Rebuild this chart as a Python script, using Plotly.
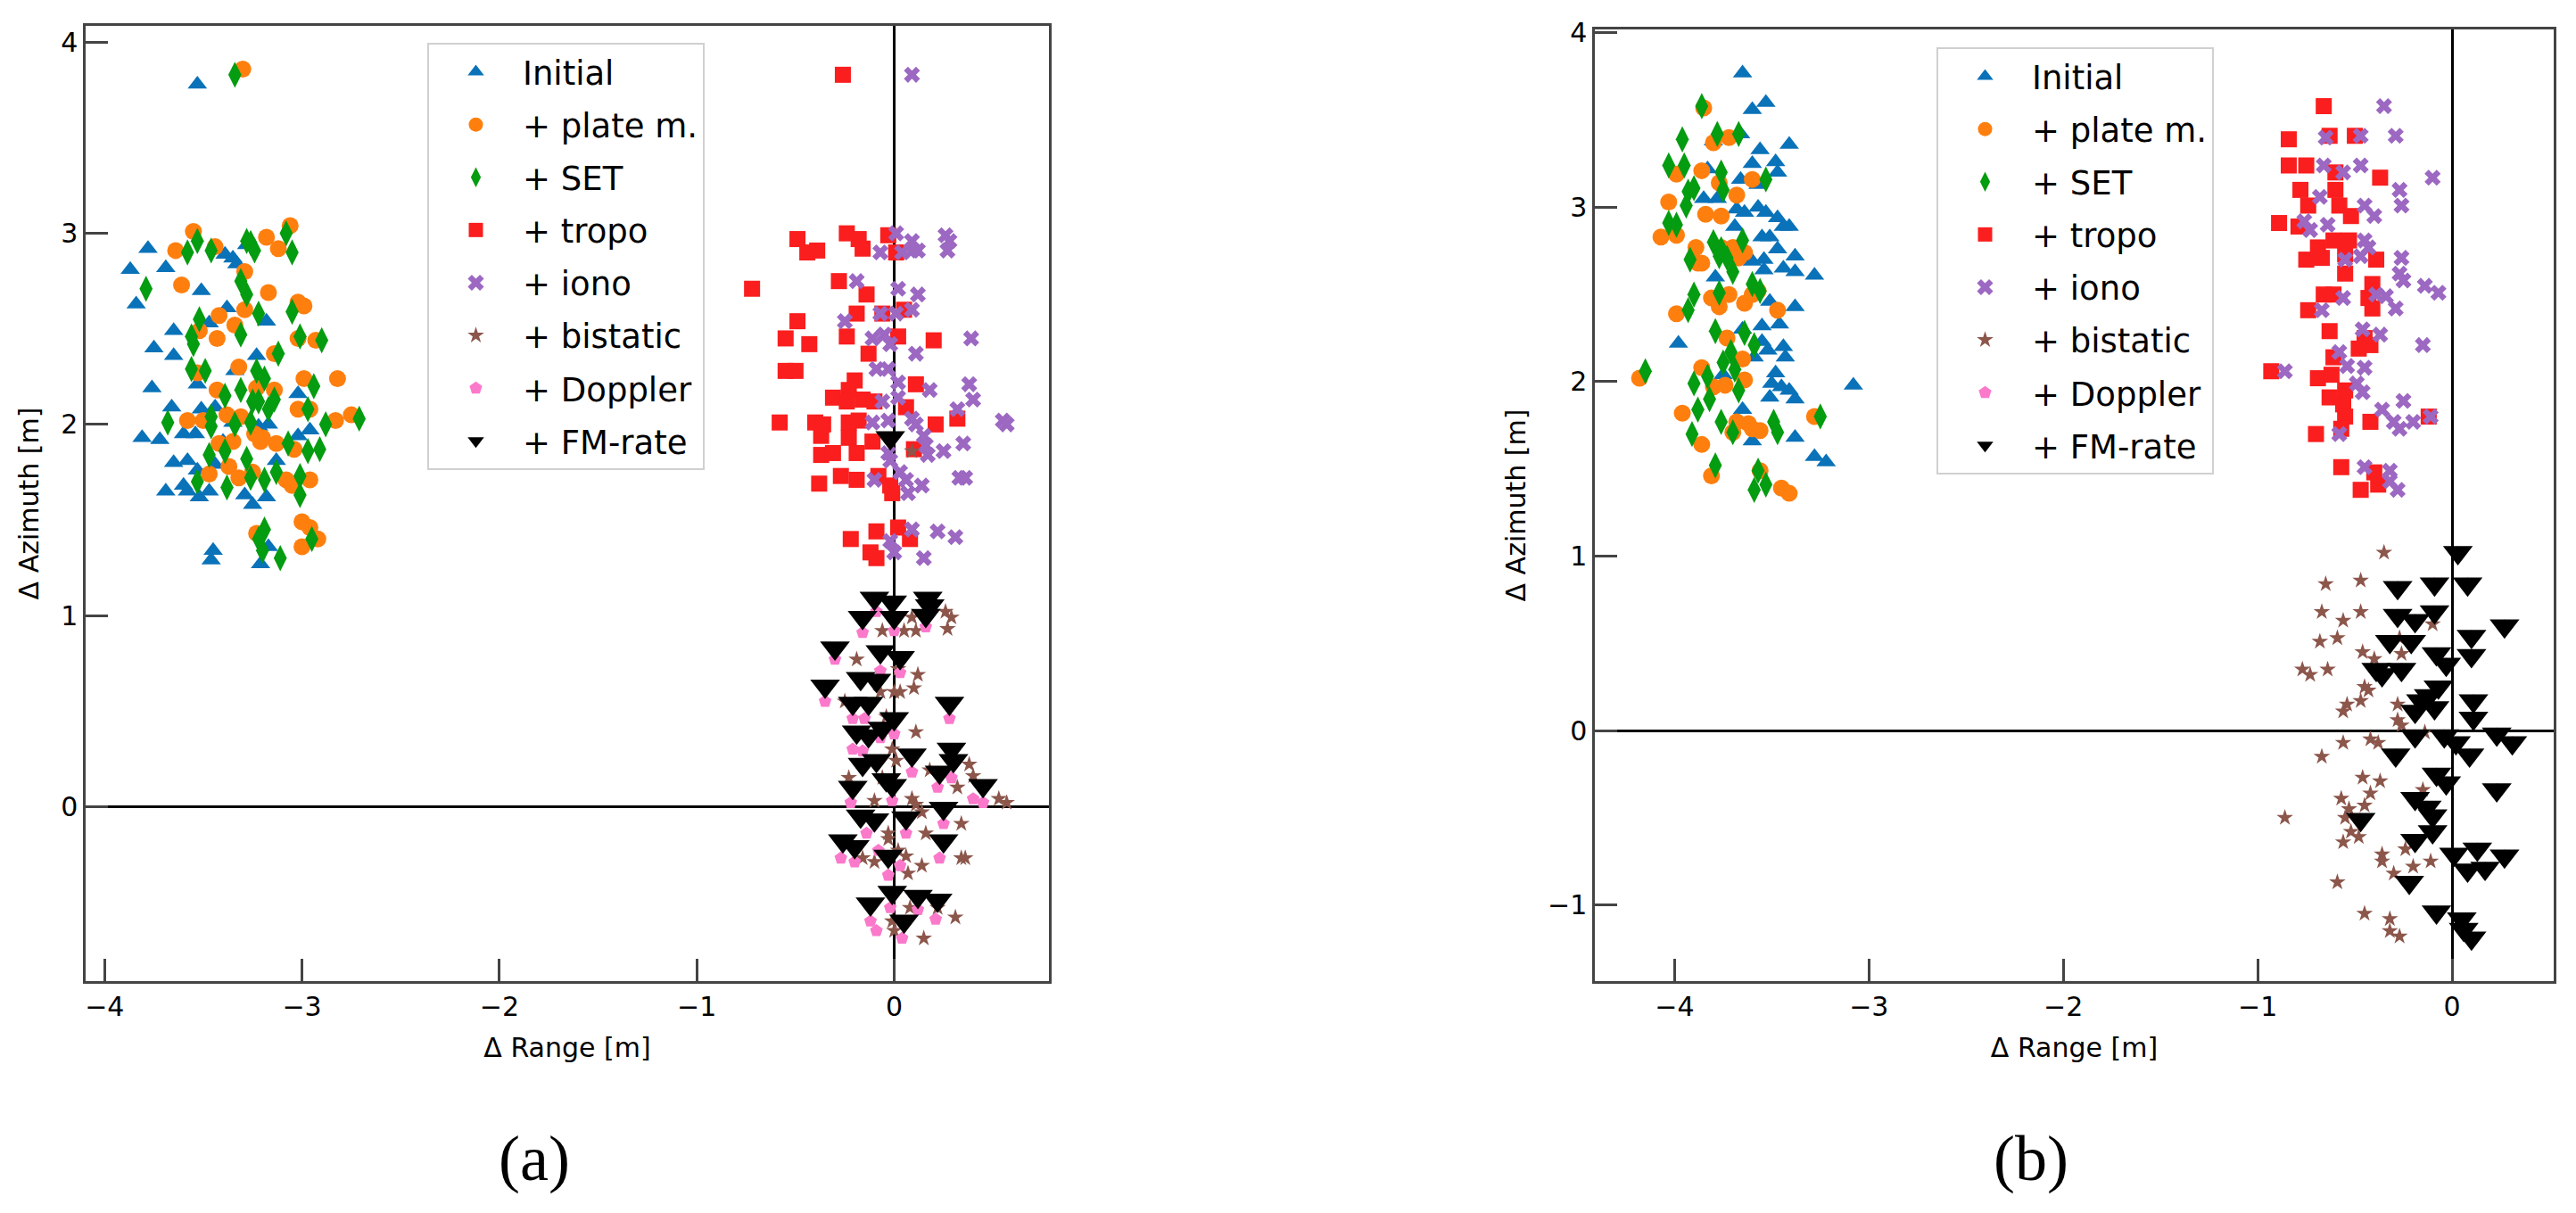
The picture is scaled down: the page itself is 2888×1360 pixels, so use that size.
import plotly.graph_objects as go

# series labels (same for both panels)
names = ["Initial", "+ plate m.", "+ SET", "+ tropo", "+ iono", "+ bistatic", "+ Doppler", "+ FM-rate"]

# ---- panel (a): (delta range, delta azimuth) in m ----
a_initial = [(-3.53, 3.78), (-3.78, 2.92), (-3.87, 2.81), (-3.69, 2.82), (-3.84, 2.63), (-3.51, 2.70), (-3.39, 2.89),
             (-3.35, 2.87), (-3.33, 2.84), (-3.28, 2.94), (-3.38, 2.61), (-3.18, 2.54), (-3.47, 2.53), (-3.65, 2.49),
             (-3.75, 2.40), (-3.65, 2.36), (-3.23, 2.36), (-3.76, 2.19), (-3.53, 2.21), (-3.34, 2.28), (-3.02, 2.16),
             (-3.66, 2.09), (-3.51, 2.08), (-3.44, 2.09), (-3.81, 1.93), (-3.72, 1.92), (-3.60, 1.95), (-3.54, 1.95),
             (-3.65, 1.80), (-3.58, 1.81), (-3.53, 1.76), (-3.44, 1.79), (-3.22, 1.99), (-3.17, 2.00), (-3.02, 1.94),
             (-2.96, 1.97), (-3.13, 1.81), (-3.69, 1.65), (-3.60, 1.68), (-3.58, 1.65), (-3.52, 1.62), (-3.47, 1.65),
             (-3.29, 1.63), (-3.25, 1.58), (-3.18, 1.62), (-3.35, 2.01), (-3.46, 1.29), (-3.45, 1.34), (-3.21, 1.27),
             (-3.17, 1.36), (-3.40, 1.91)]
a_plate = [(-3.30, 3.86), (-3.55, 3.01), (-3.64, 2.91), (-3.44, 2.93), (-3.29, 2.80), (-3.18, 2.98), (-3.12, 2.92),
           (-3.06, 3.04), (-3.61, 2.73), (-3.17, 2.69), (-3.02, 2.64), (-2.99, 2.62), (-3.42, 2.57), (-3.34, 2.52),
           (-3.29, 2.60), (-3.52, 2.49), (-3.43, 2.45), (-3.14, 2.37), (-3.02, 2.45), (-2.93, 2.44), (-3.32, 2.30),
           (-3.53, 2.27), (-2.99, 2.24), (-2.82, 2.24), (-3.43, 2.18), (-3.23, 2.19), (-3.14, 2.18), (-3.58, 2.02),
           (-3.50, 2.02), (-3.38, 2.05), (-3.31, 2.04), (-3.02, 2.08), (-2.96, 2.08), (-2.83, 2.02), (-2.75, 2.05),
           (-3.42, 1.90), (-3.35, 1.91), (-3.24, 1.95), (-3.20, 1.93), (-3.13, 1.90), (-3.04, 1.87), (-3.47, 1.74),
           (-3.37, 1.78), (-3.32, 1.72), (-3.25, 1.75), (-3.08, 1.71), (-2.96, 1.71), (-3.23, 1.43), (-3.00, 1.49),
           (-2.96, 1.46), (-2.92, 1.40), (-3.00, 1.36), (-3.05, 1.68), (-3.21, 1.91)]
a_set = [(-3.34, 3.83), (-3.53, 2.96), (-3.58, 2.90), (-3.46, 2.91), (-3.28, 2.96), (-3.26, 2.95), (-3.24, 2.91),
         (-3.08, 3.00), (-3.05, 2.90), (-3.79, 2.71), (-3.31, 2.75), (-3.28, 2.68), (-3.22, 2.58), (-3.05, 2.59),
         (-3.52, 2.55), (-3.56, 2.46), (-3.55, 2.42), (-3.31, 2.47), (-3.01, 2.46), (-2.90, 2.44), (-3.12, 2.37),
         (-3.56, 2.29), (-3.49, 2.28), (-3.23, 2.28), (-3.19, 2.24), (-3.39, 2.15), (-3.31, 2.18), (-2.94, 2.20),
         (-3.25, 2.12), (-3.17, 2.08), (-3.14, 2.13), (-3.68, 2.01), (-3.46, 2.04), (-3.46, 1.99), (-3.34, 2.00),
         (-3.26, 2.01), (-2.97, 2.08), (-2.88, 2.00), (-2.71, 2.03), (-3.47, 1.84), (-3.39, 1.86), (-3.28, 1.82),
         (-3.07, 1.90), (-2.97, 1.86), (-2.91, 1.87), (-3.53, 1.70), (-3.38, 1.67), (-3.26, 1.72), (-3.19, 1.71),
         (-3.13, 1.75), (-3.01, 1.73), (-3.01, 1.63), (-3.19, 1.45), (-3.22, 1.40), (-3.20, 1.34), (-3.11, 1.30),
         (-2.95, 1.40), (-3.22, 2.12)]
a_tropo = [(-0.26, 3.83), (-0.49, 2.97), (-0.44, 2.90), (-0.39, 2.91), (-0.24, 3.00), (-0.18, 2.97), (-0.16, 2.92),
           (-0.03, 2.99), (0.01, 2.90), (-0.72, 2.71), (-0.28, 2.75), (-0.14, 2.68), (-0.19, 2.58), (-0.06, 2.58),
           (0.05, 2.60), (-0.49, 2.54), (-0.55, 2.45), (-0.43, 2.42), (-0.24, 2.46), (0.02, 2.46), (0.20, 2.44),
           (-0.55, 2.28), (-0.50, 2.28), (-0.13, 2.37), (0.11, 2.21), (-0.20, 2.23), (-0.23, 2.18), (-0.31, 2.14),
           (-0.24, 2.12), (-0.16, 2.13), (-0.10, 2.12), (-0.58, 2.01), (-0.40, 2.01), (-0.36, 2.00), (-0.23, 2.01),
           (-0.18, 2.02), (0.06, 2.09), (0.21, 2.00), (0.32, 2.03), (-0.37, 1.94), (-0.23, 1.93), (-0.11, 1.91),
           (-0.37, 1.84), (-0.31, 1.85), (-0.19, 1.85), (-0.38, 1.69), (-0.27, 1.73), (-0.19, 1.71), (-0.08, 1.73),
           (-0.01, 1.64), (-0.02, 1.68), (-0.22, 1.40), (-0.09, 1.44), (0.02, 1.46), (0.08, 1.40), (-0.12, 1.33),
           (-0.09, 1.30), (0.10, 1.87)]
a_iono = [(0.09, 3.83), (0.01, 3.00), (0.09, 2.96), (0.09, 2.91), (-0.07, 2.90), (0.04, 2.90), (0.12, 2.91),
          (0.26, 2.99), (0.28, 2.96), (0.27, 2.91), (-0.19, 2.75), (0.02, 2.71), (0.12, 2.68), (-0.25, 2.54),
          (-0.07, 2.58), (0.01, 2.58), (0.09, 2.60), (-0.11, 2.45), (-0.05, 2.47), (-0.02, 2.42), (0.39, 2.45),
          (0.11, 2.37), (-0.09, 2.29), (-0.03, 2.29), (0.02, 2.22), (0.18, 2.18), (0.38, 2.21), (0.40, 2.13),
          (0.02, 2.14), (-0.06, 2.12), (0.32, 2.08), (-0.11, 2.01), (-0.03, 2.02), (0.09, 2.03), (0.11, 2.00),
          (0.55, 2.02), (0.57, 2.00), (0.15, 1.94), (0.16, 1.89), (0.17, 1.84), (-0.03, 1.85), (-0.02, 1.81),
          (0.25, 1.86), (0.35, 1.90), (0.03, 1.75), (0.06, 1.71), (0.07, 1.64), (0.14, 1.68), (0.33, 1.72),
          (0.36, 1.72), (-0.10, 1.71), (0.09, 1.45), (0.22, 1.44), (0.31, 1.41), (-0.02, 1.39), (0.00, 1.33),
          (0.15, 1.30)]
a_bistatic = [(0.09, 0.99), (0.26, 1.02), (0.29, 0.99), (0.27, 0.93), (-0.06, 0.92), (0.05, 0.92), (0.11, 0.92),
              (-0.19, 0.77), (0.02, 0.72), (0.12, 0.69), (-0.07, 0.60), (0.00, 0.60), (0.03, 0.60), (0.10, 0.62),
              (-0.25, 0.55), (-0.04, 0.47), (-0.02, 0.43), (0.11, 0.39), (-0.01, 0.30), (0.01, 0.24), (0.38, 0.22),
              (0.18, 0.19), (0.40, 0.16), (0.32, 0.10), (-0.10, 0.03), (0.09, 0.04), (0.11, 0.01), (0.53, 0.04),
              (0.57, 0.02), (0.14, -0.03), (0.34, -0.09), (0.16, -0.14), (-0.03, -0.14), (-0.03, -0.17),
              (0.02, -0.23), (0.06, -0.26), (-0.16, -0.27), (-0.10, -0.29), (0.14, -0.31), (0.07, -0.35),
              (0.34, -0.27), (0.36, -0.27), (0.08, -0.53), (0.22, -0.53), (0.31, -0.58), (-0.01, -0.60),
              (0.00, -0.65), (0.15, -0.69), (-0.06, 0.15), (-0.23, 0.15), (0.09, 1.86)]
a_doppler = [(-0.16, 0.91), (-0.09, 1.02), (0.00, 0.92), (0.16, 0.94), (-0.30, 0.77), (-0.07, 0.71), (0.03, 0.70),
             (-0.35, 0.55), (-0.21, 0.46), (-0.15, 0.46), (0.28, 0.46), (0.00, 0.38), (-0.21, 0.30), (-0.16, 0.29),
             (0.09, 0.18), (0.29, 0.15), (0.22, 0.10), (-0.22, 0.02), (-0.01, 0.03), (0.45, 0.02), (-0.14, -0.14),
             (0.06, -0.14), (0.25, -0.09), (-0.27, -0.27), (-0.20, -0.29), (0.23, -0.27), (-0.03, -0.36),
             (0.03, -0.31), (-0.02, -0.53), (-0.12, -0.60), (-0.09, -0.65), (0.12, -0.54), (0.21, -0.59),
             (0.04, -0.69), (-0.08, -0.23), (0.40, 0.04), (-0.07, 0.36)]
a_fmrate = [(-0.10, 1.09), (-0.01, 1.07), (0.17, 1.09), (0.18, 1.05), (-0.16, 0.99), (0.00, 0.99), (0.16, 1.00),
            (-0.30, 0.83), (-0.07, 0.81), (0.03, 0.78), (-0.35, 0.63), (-0.17, 0.67), (-0.09, 0.66), (-0.21, 0.54),
            (-0.13, 0.54), (0.28, 0.54), (0.00, 0.46), (-0.19, 0.39), (-0.13, 0.37), (0.29, 0.30), (0.09, 0.27),
            (-0.16, 0.22), (-0.09, 0.24), (0.30, 0.24), (0.23, 0.18), (-0.21, 0.10), (-0.01, 0.11), (0.45, 0.11),
            (-0.17, -0.05), (0.06, -0.06), (0.25, -0.01), (-0.10, -0.07), (-0.26, -0.18), (-0.20, -0.21),
            (0.25, -0.18), (-0.03, -0.26), (-0.01, -0.45), (-0.12, -0.51), (0.12, -0.47), (0.22, -0.49),
            (0.05, -0.60), (-0.02, 1.93), (-0.06, 0.41), (-0.04, 0.14)]

# ---- panel (b) ----
b_initial = [(-3.65, 3.77), (-3.60, 3.56), (-3.53, 3.60), (-3.66, 3.42), (-3.80, 3.38), (-3.41, 3.36), (-3.56, 3.33),
             (-3.60, 3.25), (-3.48, 3.26), (-3.47, 3.20), (-3.66, 3.16), (-3.57, 3.13), (-3.83, 3.22), (-3.85, 3.05),
             (-3.78, 3.05), (-3.68, 2.99), (-3.64, 2.97), (-3.57, 3.00), (-3.53, 2.97), (-3.47, 2.94), (-3.44, 2.89),
             (-3.41, 2.89), (-3.69, 2.89), (-3.55, 2.83), (-3.51, 2.83), (-3.47, 2.76), (-3.38, 2.72), (-3.54, 2.70),
             (-3.60, 2.69), (-3.44, 2.65), (-3.38, 2.63), (-3.28, 2.61), (-3.79, 2.60), (-3.54, 2.64), (-3.51, 2.46),
             (-3.38, 2.43), (-3.46, 2.33), (-3.55, 2.32), (-3.65, 2.30), (-3.98, 2.22), (-3.55, 2.23), (-3.52, 2.18),
             (-3.44, 2.20), (-3.43, 2.14), (-3.59, 2.14), (-3.75, 2.04), (-3.48, 2.05), (-3.50, 1.99), (-3.45, 1.97),
             (-3.41, 1.95), (-3.51, 1.91), (-3.38, 1.90), (-3.08, 1.98), (-3.65, 1.84), (-3.60, 1.66), (-3.38, 1.68),
             (-3.28, 1.57), (-3.22, 1.54)]
b_plate = [(-3.85, 3.57), (-3.80, 3.37), (-3.72, 3.40), (-3.99, 3.19), (-3.86, 3.21), (-3.60, 3.16), (-4.03, 3.03),
           (-3.77, 3.14), (-3.84, 2.96), (-3.76, 2.95), (-3.68, 3.07), (-4.07, 2.83), (-3.99, 2.84), (-3.89, 2.77),
           (-3.86, 2.68), (-3.76, 2.77), (-3.70, 2.77), (-3.67, 2.71), (-3.64, 2.74), (-3.88, 2.68), (-3.81, 2.48),
           (-3.77, 2.43), (-3.72, 2.50), (-3.64, 2.45), (-3.60, 2.50), (-3.47, 2.41), (-3.99, 2.39), (-3.73, 2.25),
           (-3.65, 2.13), (-3.86, 2.08), (-3.80, 1.97), (-3.74, 1.98), (-3.64, 2.01), (-3.96, 1.82), (-3.68, 1.77),
           (-3.62, 1.76), (-3.56, 1.72), (-3.28, 1.80), (-3.86, 1.64), (-3.70, 1.71), (-3.81, 1.46), (-3.56, 1.49),
           (-3.45, 1.39), (-3.41, 1.36), (-3.60, 1.73), (-3.57, 2.52), (-4.18, 2.02)]
b_set = [(-3.86, 3.58), (-3.96, 3.39), (-3.78, 3.42), (-3.67, 3.42), (-4.03, 3.24), (-3.95, 3.24), (-3.76, 3.20),
         (-3.53, 3.16), (-3.93, 3.09), (-3.90, 3.11), (-3.94, 3.01), (-3.75, 3.10), (-4.03, 2.91), (-3.99, 2.90),
         (-3.80, 2.80), (-3.76, 2.76), (-3.73, 2.71), (-3.92, 2.70), (-3.70, 2.63), (-3.65, 2.81), (-3.60, 2.56),
         (-3.56, 2.52), (-3.90, 2.50), (-3.93, 2.41), (-3.77, 2.51), (-3.79, 2.29), (-3.64, 2.28), (-3.59, 2.21),
         (-3.71, 2.17), (-3.75, 2.11), (-3.69, 2.07), (-3.90, 1.99), (-3.83, 2.03), (-3.82, 1.90), (-3.88, 1.84),
         (-3.67, 1.95), (-3.76, 1.77), (-3.91, 1.70), (-3.70, 1.71), (-3.49, 1.77), (-3.47, 1.71), (-3.79, 1.52),
         (-3.57, 1.49), (-3.59, 1.38), (-3.53, 1.41), (-3.25, 1.80), (-4.15, 2.06), (-3.77, 2.72)]
b_tropo = [(-0.66, 3.58), (-0.84, 3.39), (-0.63, 3.41), (-0.50, 3.41), (-0.84, 3.24), (-0.75, 3.24), (-0.60, 3.20),
           (-0.37, 3.17), (-0.78, 3.10), (-0.60, 3.10), (-0.74, 3.01), (-0.58, 3.01), (-0.52, 2.95), (-0.89, 2.91),
           (-0.79, 2.89), (-0.69, 2.77), (-0.61, 2.81), (-0.53, 2.81), (-0.75, 2.70), (-0.67, 2.71), (-0.55, 2.73),
           (-0.39, 2.70), (-0.55, 2.62), (-0.66, 2.50), (-0.61, 2.50), (-0.74, 2.41), (-0.41, 2.56), (-0.43, 2.48),
           (-0.41, 2.42), (-0.63, 2.29), (-0.45, 2.25), (-0.42, 2.21), (-0.48, 2.19), (-0.61, 2.14), (-0.93, 2.06),
           (-0.69, 2.02), (-0.62, 2.04), (-0.63, 1.91), (-0.56, 1.87), (-0.55, 1.95), (-0.55, 1.80), (-0.57, 1.73),
           (-0.42, 1.77), (-0.70, 1.70), (-0.12, 1.80), (-0.57, 1.51), (-0.47, 1.38), (-0.40, 1.48), (-0.38, 1.41)]
b_iono = [(-0.35, 3.58), (-0.65, 3.40), (-0.47, 3.41), (-0.29, 3.41), (-0.66, 3.24), (-0.47, 3.24), (-0.56, 3.20),
          (-0.10, 3.17), (-0.27, 3.10), (-0.68, 3.06), (-0.26, 3.01), (-0.45, 3.01), (-0.40, 2.95), (-0.76, 2.92),
          (-0.73, 2.87), (-0.64, 2.90), (-0.45, 2.81), (-0.43, 2.77), (-0.47, 2.72), (-0.55, 2.70), (-0.26, 2.71),
          (-0.27, 2.62), (-0.25, 2.58), (-0.14, 2.55), (-0.07, 2.51), (-0.39, 2.50), (-0.34, 2.49), (-0.56, 2.48),
          (-0.67, 2.41), (-0.29, 2.42), (-0.46, 2.30), (-0.37, 2.27), (-0.15, 2.21), (-0.58, 2.17), (-0.54, 2.09),
          (-0.45, 2.08), (-0.86, 2.06), (-0.49, 1.99), (-0.46, 1.94), (-0.25, 1.89), (-0.36, 1.84), (-0.30, 1.77),
          (-0.27, 1.73), (-0.20, 1.77), (-0.11, 1.80), (-0.58, 1.70), (-0.45, 1.51), (-0.32, 1.49), (-0.32, 1.43),
          (-0.28, 1.38)]
b_bistatic = [(-0.35, 1.02), (-0.65, 0.84), (-0.47, 0.86), (-0.67, 0.68), (-0.56, 0.63), (-0.47, 0.68), (-0.68, 0.51),
              (-0.59, 0.53), (-0.27, 0.53), (-0.46, 0.45), (-0.26, 0.44), (-0.40, 0.41), (-0.77, 0.35), (-0.73, 0.32),
              (-0.64, 0.35), (-0.45, 0.25), (-0.43, 0.23), (-0.47, 0.17), (-0.54, 0.15), (-0.56, 0.11), (-0.28, 0.15),
              (-0.28, 0.06), (-0.26, 0.03), (-0.10, 0.61), (-0.14, -0.01), (-0.42, -0.05), (-0.38, -0.07),
              (-0.56, -0.07), (-0.67, -0.15), (-0.46, -0.27), (-0.37, -0.29), (-0.42, -0.36), (-0.57, -0.39),
              (-0.53, -0.45), (-0.55, -0.50), (-0.86, -0.50), (-0.52, -0.58), (-0.56, -0.64), (-0.48, -0.61),
              (-0.24, -0.68), (-0.36, -0.71), (-0.36, -0.75), (-0.20, -0.78), (-0.11, -0.75), (-0.30, -0.82),
              (-0.59, -0.87), (-0.45, -1.05), (-0.32, -1.08), (-0.32, -1.15), (-0.27, -1.18), (-0.15, -0.34),
              (-0.45, -0.43)]
b_fmrate = [(0.03, 1.02), (-0.28, 0.82), (-0.09, 0.84), (0.08, 0.84), (-0.28, 0.66), (-0.19, 0.63), (-0.09, 0.68),
            (0.27, 0.60), (-0.32, 0.51), (-0.21, 0.51), (0.10, 0.54), (-0.08, 0.44), (-0.03, 0.38), (0.10, 0.43),
            (-0.39, 0.35), (-0.36, 0.32), (-0.26, 0.35), (-0.07, 0.25), (-0.12, 0.20), (-0.16, 0.17), (-0.19, 0.11),
            (-0.09, 0.13), (0.11, 0.17), (0.11, 0.07), (-0.19, -0.03), (-0.04, -0.03), (0.02, -0.07), (0.23, -0.02),
            (0.31, -0.07), (-0.29, -0.14), (0.09, -0.14), (-0.08, -0.25), (-0.03, -0.30), (0.23, -0.34),
            (-0.19, -0.39), (-0.13, -0.44), (-0.10, -0.49), (-0.47, -0.51), (-0.10, -0.58), (-0.19, -0.63),
            (0.01, -0.71), (0.13, -0.68), (0.27, -0.72), (0.08, -0.80), (0.17, -0.79), (-0.22, -0.87),
            (-0.08, -1.04), (0.05, -1.08), (0.06, -1.14), (0.10, -1.19)]
# Doppler points in (b) sit right under the FM-rate markers
b_doppler = b_fmrate

x_ticks = [-4, -3, -2, -1, 0]
a_y_ticks = [0, 1, 2, 3, 4]
b_y_ticks = [-1, 0, 1, 2, 3, 4]

# marker look per series: symbol, colour, size
symbols = ["triangle-up", "circle", "diamond-tall", "square", "x", "star", "pentagon", "triangle-down"]
colors = ["#0a72b8", "#ff7f0e", "#049c10", "#fa1e1e", "#9c68c2", "#8c564b", "#fb79cb", "#000000"]
sizes = [19, 19, 21, 18, 16, 14, 15, 29]

panels = [
    ("a", [a_initial, a_plate, a_set, a_tropo, a_iono, a_bistatic, a_doppler, a_fmrate], "x", "y", "legend"),
    ("b", [b_initial, b_plate, b_set, b_tropo, b_iono, b_bistatic, b_doppler, b_fmrate], "x2", "y2", "legend2"),
]

fig = go.Figure()
for tag, series, xa, ya, leg in panels:
    for i, pts in enumerate(series):
        fig.add_trace(go.Scatter(
            x=[p[0] for p in pts], y=[p[1] for p in pts],
            mode="markers", name=names[i],
            marker=dict(symbol=symbols[i], color=colors[i], size=sizes[i], line=dict(width=0)),
            xaxis=xa, yaxis=ya, legend=leg, legendgroup=tag + str(i),
        ))

# the page body keeps an 8px margin, so the figure is 16px smaller than the window
PAGE_W, PAGE_H = 2888, 1360
W, H = PAGE_W - 16, PAGE_H - 16


def fx(px):
    return (px - 8) / W


def fy(py):
    return 1 - (py - 8) / H


font_txt = dict(family="DejaVu Sans", size=30, color="black")
ax = dict(showline=True, mirror=True, linecolor="#444444", linewidth=2.5,
          ticks="inside", ticklen=25, tickwidth=2.5, tickcolor="#444444",
          showgrid=False, zeroline=True, zerolinecolor="black", zerolinewidth=3,
          layer="above traces", tickfont=font_txt, title_font=font_txt)
leg = dict(xanchor="left", yanchor="top", bgcolor="white", bordercolor="#d0d0d0", borderwidth=2,
           itemwidth=95, tracegroupgap=8,
           font=dict(family="DejaVu Sans", size=37, color="black"))

fig.update_layout(
    width=W, height=H, margin=dict(l=0, r=0, t=0, b=0, autoexpand=False),
    paper_bgcolor="white", plot_bgcolor="white",
    xaxis=dict(ax, domain=[fx(96), fx(1176)], range=[-4.096, 0.784], tickvals=x_ticks,
               title=dict(text="Δ Range [m]", standoff=20)),
    yaxis=dict(ax, domain=[fy(1100), fy(29)], range=[-0.914, 4.086], tickvals=a_y_ticks,
               title=dict(text="Δ Azimuth [m]", standoff=16)),
    xaxis2=dict(ax, domain=[fx(1788), fx(2863)], range=[-4.41, 0.523], tickvals=x_ticks,
                anchor="y2", title=dict(text="Δ Range [m]", standoff=20)),
    yaxis2=dict(ax, domain=[fy(1100), fy(33)], range=[-1.437, 4.02], tickvals=b_y_ticks,
                anchor="x2", title=dict(text="Δ Azimuth [m]", standoff=16)),
    legend=dict(leg, x=fx(479), y=fy(48)),
    legend2=dict(leg, x=fx(2171), y=fy(53)),
    annotations=[
        dict(text="(a)", x=fx(599), y=fy(1299), xref="paper", yref="paper", showarrow=False,
             xanchor="center", yanchor="middle",
             font=dict(family="Liberation Serif", size=72, color="black")),
        dict(text="(b)", x=fx(2277), y=fy(1299), xref="paper", yref="paper", showarrow=False,
             xanchor="center", yanchor="middle",
             font=dict(family="Liberation Serif", size=72, color="black")),
    ],
)

fig.write_html("out.html")
